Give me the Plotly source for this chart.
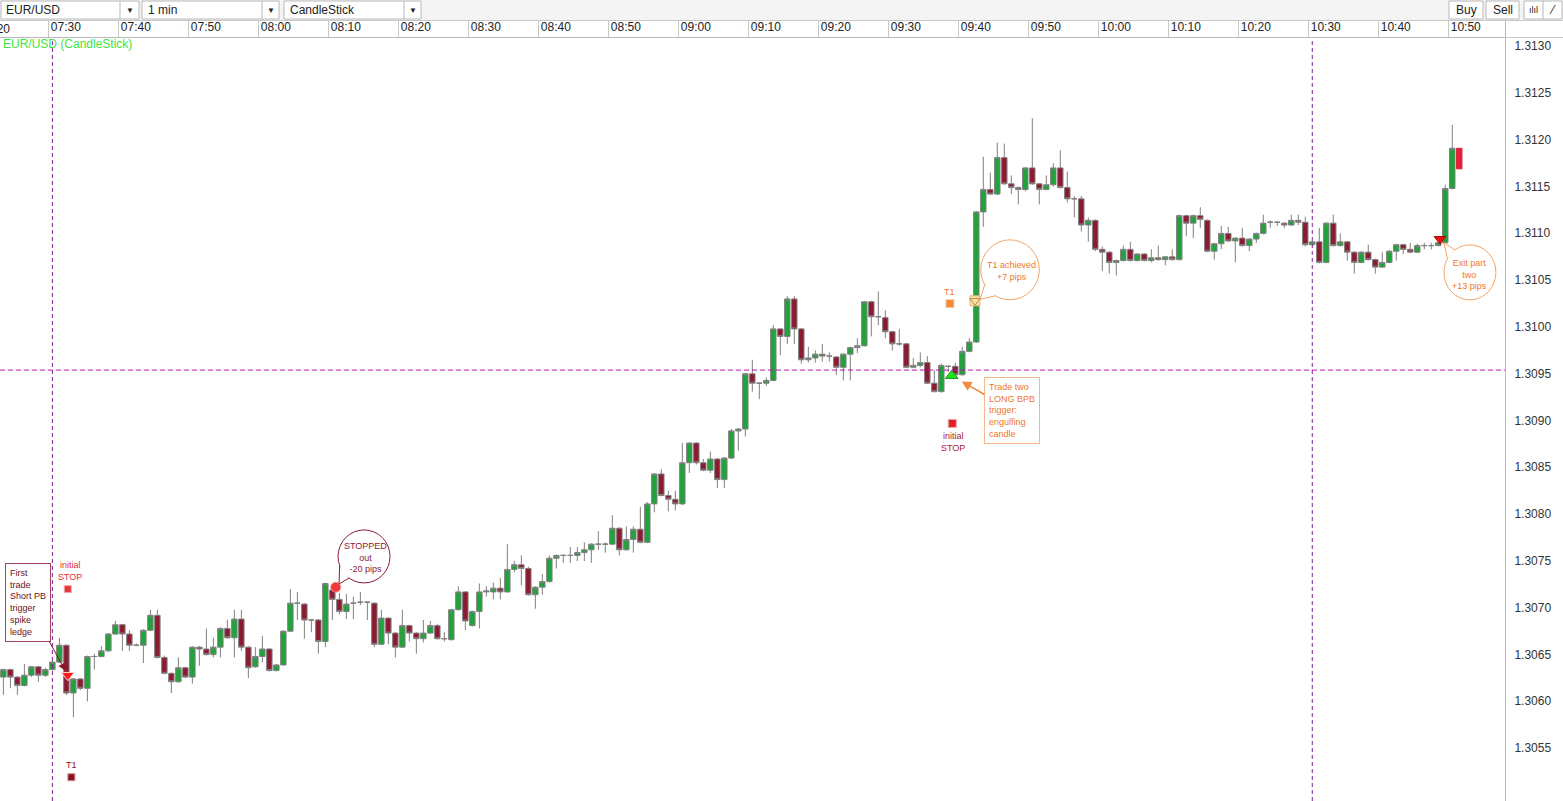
"""
EUR/USD 1 min candlestick chart with trade annotations.
"""

import pandas as pd
import plotly.graph_objects as go

# =============================================================================
# DATA  (one candle per minute from 07:23 to 10:50)
# =============================================================================

session_start = "2013-03-01 07:23"

opens = [
    1.30629, 1.30637, 1.30629, 1.30620, 1.30631, 1.30640, 1.30631, 1.30637, 1.30645, 1.30663,
    1.30612, 1.30627, 1.30617, 1.30651, 1.30651, 1.30657, 1.30675, 1.30685, 1.30675, 1.30663,
    1.30663, 1.30679, 1.30695, 1.30650, 1.30633, 1.30624, 1.30639, 1.30629, 1.30661, 1.30659,
    1.30653, 1.30661, 1.30681, 1.30671, 1.30691, 1.30661, 1.30640, 1.30651, 1.30659, 1.30636,
    1.30642, 1.30678, 1.30708, 1.30707, 1.30690, 1.30690, 1.30667, 1.30722, 1.30712, 1.30699,
    1.30708, 1.30709, 1.30709, 1.30708, 1.30664, 1.30692, 1.30676, 1.30661, 1.30684, 1.30676,
    1.30670, 1.30676, 1.30684, 1.30670, 1.30669, 1.30701, 1.30720, 1.30684, 1.30699, 1.30720,
    1.30720, 1.30724, 1.30720, 1.30744, 1.30749, 1.30745, 1.30717, 1.30725, 1.30731, 1.30756,
    1.30759, 1.30759, 1.30759, 1.30762, 1.30765, 1.30771, 1.30771, 1.30771, 1.30788, 1.30765,
    1.30776, 1.30787, 1.30773, 1.30814, 1.30846, 1.30823, 1.30819, 1.30814, 1.30858, 1.30879,
    1.30858, 1.30850, 1.30862, 1.30840, 1.30863, 1.30892, 1.30894, 1.30953, 1.30943, 1.30943,
    1.30946, 1.31001, 1.30993, 1.31033, 1.31001, 1.30968, 1.30970, 1.30974, 1.30972, 1.30971,
    1.30960, 1.30974, 1.30981, 1.30983, 1.31030, 1.31014, 1.31013, 1.30998, 1.30985, 1.30985,
    1.30960, 1.30962, 1.30965, 1.30943, 1.30934, 1.30961, 1.30961, 1.30952, 1.30977, 1.30987,
    1.31126, 1.31150, 1.31145, 1.31184, 1.31156, 1.31152, 1.31150, 1.31173, 1.31156, 1.31150,
    1.31155, 1.31173, 1.31152, 1.31140, 1.31140, 1.31112, 1.31117, 1.31086, 1.31083, 1.31072,
    1.31074, 1.31086, 1.31074, 1.31081, 1.31074, 1.31077, 1.31075, 1.31078, 1.31075, 1.31122,
    1.31114, 1.31122, 1.31117, 1.31084, 1.31092, 1.31103, 1.31095, 1.31098, 1.31090, 1.31097,
    1.31103, 1.31115, 1.31115, 1.31114, 1.31112, 1.31117, 1.31115, 1.31091, 1.31094, 1.31072,
    1.31114, 1.31090, 1.31094, 1.31083, 1.31072, 1.31083, 1.31075, 1.31067, 1.31072, 1.31084,
    1.31091, 1.31086, 1.31083, 1.31090, 1.31090, 1.31090, 1.31093, 1.31151,
]

highs = [
    1.30638, 1.30638, 1.30630, 1.30643, 1.30641, 1.30641, 1.30639, 1.30646, 1.30671, 1.30664,
    1.30628, 1.30628, 1.30652, 1.30654, 1.30662, 1.30676, 1.30689, 1.30686, 1.30679, 1.30665,
    1.30680, 1.30701, 1.30701, 1.30652, 1.30634, 1.30650, 1.30640, 1.30662, 1.30662, 1.30681,
    1.30671, 1.30682, 1.30690, 1.30701, 1.30701, 1.30662, 1.30661, 1.30673, 1.30660, 1.30643,
    1.30679, 1.30723, 1.30720, 1.30708, 1.30691, 1.30691, 1.30730, 1.30724, 1.30719, 1.30718,
    1.30715, 1.30720, 1.30710, 1.30709, 1.30701, 1.30693, 1.30677, 1.30701, 1.30685, 1.30677,
    1.30690, 1.30689, 1.30686, 1.30677, 1.30702, 1.30726, 1.30721, 1.30700, 1.30729, 1.30726,
    1.30730, 1.30735, 1.30771, 1.30753, 1.30759, 1.30747, 1.30726, 1.30739, 1.30759, 1.30760,
    1.30760, 1.30768, 1.30768, 1.30773, 1.30772, 1.30785, 1.30773, 1.30802, 1.30789, 1.30790,
    1.30790, 1.30811, 1.30816, 1.30847, 1.30851, 1.30828, 1.30828, 1.30879, 1.30880, 1.30880,
    1.30862, 1.30870, 1.30863, 1.30864, 1.30894, 1.30895, 1.30954, 1.30968, 1.30944, 1.30949,
    1.31005, 1.31002, 1.31036, 1.31036, 1.31002, 1.30982, 1.30978, 1.30985, 1.30976, 1.30972,
    1.30975, 1.30982, 1.30991, 1.31031, 1.31031, 1.31041, 1.31021, 1.30999, 1.31001, 1.30986,
    1.30970, 1.30976, 1.30972, 1.30957, 1.30964, 1.30962, 1.30965, 1.30982, 1.30991, 1.31127,
    1.31185, 1.31168, 1.31200, 1.31199, 1.31165, 1.31153, 1.31174, 1.31226, 1.31157, 1.31165,
    1.31178, 1.31192, 1.31169, 1.31143, 1.31143, 1.31120, 1.31118, 1.31089, 1.31084, 1.31075,
    1.31090, 1.31094, 1.31082, 1.31082, 1.31086, 1.31090, 1.31079, 1.31086, 1.31123, 1.31123,
    1.31123, 1.31131, 1.31118, 1.31093, 1.31111, 1.31110, 1.31099, 1.31109, 1.31098, 1.31104,
    1.31123, 1.31117, 1.31116, 1.31115, 1.31123, 1.31123, 1.31121, 1.31095, 1.31109, 1.31115,
    1.31123, 1.31103, 1.31095, 1.31084, 1.31084, 1.31091, 1.31076, 1.31083, 1.31085, 1.31092,
    1.31092, 1.31093, 1.31092, 1.31093, 1.31093, 1.31094, 1.31155, 1.31219,
]

lows = [
    1.30610, 1.30617, 1.30610, 1.30619, 1.30629, 1.30624, 1.30629, 1.30636, 1.30644, 1.30610,
    1.30586, 1.30615, 1.30603, 1.30637, 1.30650, 1.30656, 1.30674, 1.30657, 1.30657, 1.30662,
    1.30644, 1.30678, 1.30649, 1.30632, 1.30612, 1.30623, 1.30628, 1.30622, 1.30641, 1.30652,
    1.30650, 1.30650, 1.30670, 1.30650, 1.30657, 1.30628, 1.30639, 1.30645, 1.30635, 1.30635,
    1.30641, 1.30677, 1.30690, 1.30670, 1.30677, 1.30654, 1.30661, 1.30690, 1.30696, 1.30691,
    1.30691, 1.30706, 1.30690, 1.30661, 1.30663, 1.30664, 1.30650, 1.30660, 1.30667, 1.30654,
    1.30666, 1.30675, 1.30669, 1.30667, 1.30668, 1.30700, 1.30679, 1.30683, 1.30681, 1.30715,
    1.30712, 1.30712, 1.30719, 1.30741, 1.30727, 1.30716, 1.30702, 1.30717, 1.30730, 1.30745,
    1.30751, 1.30751, 1.30753, 1.30753, 1.30751, 1.30765, 1.30762, 1.30770, 1.30759, 1.30764,
    1.30762, 1.30772, 1.30772, 1.30805, 1.30822, 1.30806, 1.30807, 1.30813, 1.30847, 1.30856,
    1.30849, 1.30847, 1.30831, 1.30831, 1.30862, 1.30871, 1.30886, 1.30934, 1.30926, 1.30940,
    1.30945, 1.30973, 1.30985, 1.30985, 1.30964, 1.30965, 1.30965, 1.30966, 1.30966, 1.30952,
    1.30946, 1.30946, 1.30975, 1.30982, 1.30993, 1.31005, 1.30991, 1.30978, 1.30983, 1.30959,
    1.30959, 1.30960, 1.30942, 1.30933, 1.30933, 1.30955, 1.30949, 1.30951, 1.30976, 1.30986,
    1.31110, 1.31144, 1.31144, 1.31155, 1.31145, 1.31134, 1.31148, 1.31155, 1.31134, 1.31149,
    1.31153, 1.31151, 1.31136, 1.31120, 1.31105, 1.31094, 1.31084, 1.31063, 1.31060, 1.31058,
    1.31073, 1.31073, 1.31073, 1.31073, 1.31072, 1.31074, 1.31069, 1.31074, 1.31074, 1.31100,
    1.31098, 1.31109, 1.31083, 1.31075, 1.31086, 1.31094, 1.31072, 1.31089, 1.31084, 1.31093,
    1.31102, 1.31109, 1.31111, 1.31109, 1.31111, 1.31112, 1.31089, 1.31090, 1.31071, 1.31071,
    1.31089, 1.31089, 1.31074, 1.31060, 1.31071, 1.31074, 1.31060, 1.31066, 1.31071, 1.31074,
    1.31081, 1.31082, 1.31082, 1.31086, 1.31086, 1.31089, 1.31092, 1.31150,
]

closes = [
    1.30637, 1.30629, 1.30620, 1.30631, 1.30640, 1.30631, 1.30637, 1.30645, 1.30663, 1.30612,
    1.30627, 1.30617, 1.30651, 1.30651, 1.30657, 1.30675, 1.30685, 1.30675, 1.30663, 1.30663,
    1.30679, 1.30695, 1.30650, 1.30633, 1.30624, 1.30639, 1.30629, 1.30661, 1.30659, 1.30653,
    1.30661, 1.30681, 1.30671, 1.30691, 1.30661, 1.30639, 1.30651, 1.30659, 1.30636, 1.30642,
    1.30678, 1.30708, 1.30708, 1.30690, 1.30690, 1.30667, 1.30729, 1.30712, 1.30699, 1.30707,
    1.30708, 1.30709, 1.30709, 1.30664, 1.30692, 1.30676, 1.30661, 1.30684, 1.30676, 1.30670,
    1.30676, 1.30684, 1.30670, 1.30670, 1.30701, 1.30720, 1.30689, 1.30699, 1.30720, 1.30721,
    1.30724, 1.30720, 1.30744, 1.30749, 1.30745, 1.30717, 1.30725, 1.30731, 1.30756, 1.30759,
    1.30759, 1.30759, 1.30762, 1.30765, 1.30771, 1.30771, 1.30771, 1.30788, 1.30765, 1.30776,
    1.30787, 1.30773, 1.30814, 1.30846, 1.30823, 1.30819, 1.30814, 1.30858, 1.30879, 1.30858,
    1.30850, 1.30862, 1.30840, 1.30863, 1.30892, 1.30894, 1.30953, 1.30943, 1.30943, 1.30946,
    1.31001, 1.30993, 1.31033, 1.31001, 1.30968, 1.30970, 1.30974, 1.30972, 1.30972, 1.30960,
    1.30974, 1.30981, 1.30983, 1.31030, 1.31014, 1.31014, 1.30998, 1.30985, 1.30985, 1.30960,
    1.30962, 1.30965, 1.30943, 1.30934, 1.30962, 1.30961, 1.30952, 1.30977, 1.30987, 1.31126,
    1.31150, 1.31145, 1.31184, 1.31156, 1.31152, 1.31150, 1.31173, 1.31156, 1.31150, 1.31155,
    1.31173, 1.31152, 1.31140, 1.31140, 1.31112, 1.31117, 1.31086, 1.31083, 1.31072, 1.31074,
    1.31086, 1.31074, 1.31081, 1.31074, 1.31077, 1.31075, 1.31078, 1.31075, 1.31122, 1.31114,
    1.31122, 1.31118, 1.31084, 1.31092, 1.31103, 1.31095, 1.31098, 1.31090, 1.31097, 1.31103,
    1.31114, 1.31115, 1.31115, 1.31112, 1.31117, 1.31115, 1.31091, 1.31094, 1.31072, 1.31114,
    1.31090, 1.31094, 1.31083, 1.31072, 1.31083, 1.31075, 1.31067, 1.31072, 1.31084, 1.31091,
    1.31086, 1.31083, 1.31090, 1.31090, 1.31090, 1.31093, 1.31151, 1.31194,
]

# candle still forming at 10:51
live_time = ["2013-03-01 10:51"]
live_open = [1.31194]
live_high = [1.31194]
live_low = [1.31172]
live_close = [1.31172]

# trade markers drawn by the trader
signal_names = [
    "short entry", "short stop", "short T1", "stopped out",
    "long T1", "long stop", "long entry", "T1 achieved", "exit part two",
]
signal_times = [
    "2013-03-01 07:32:12", "2013-03-01 07:32:12", "2013-03-01 07:32:43", "2013-03-01 08:10:29",
    "2013-03-01 09:38:14", "2013-03-01 09:38:34", "2013-03-01 09:38:29", "2013-03-01 09:41:49",
    "2013-03-01 10:48:14",
]
signal_prices = [
    1.30631, 1.30723, 1.30522, 1.30725,
    1.31028, 1.30900, 1.30951, 1.31031,
    1.31097,
]

# point the "Trade two" arrow lands on
long_arrow_time = "2013-03-01 09:39:40"
long_arrow_price = 1.30946

level_price = 1.30957                                   # horizontal dashed level
session_lines = ["2013-03-01 07:30", "2013-03-01 10:30"]  # vertical dashed lines

time_labels = [
    "07:30", "07:40", "07:50", "08:00", "08:10", "08:20", "08:30", "08:40", "08:50",
    "09:00", "09:10", "09:20", "09:30", "09:40", "09:50", "10:00", "10:10", "10:20",
    "10:30", "10:40", "10:50",
]

# =============================================================================
# STYLE
# =============================================================================

COLORS = {
    "up": "#1fa33a",
    "down": "#8c1a30",
    "wick": "#808080",
    "live": "#e0203c",
    "vline": "#7d1f93",
    "hline": "#b414b4",
    "maroon": "#8b1a3a",
    "orange": "#f07828",
    "orange_line": "#f4a566",
    "toolbar": "#f4f4f4",
    "border": "#b8b8b8",
    "grid": "#c8c8c8",
    "text": "#222222",
}

FONT = "Liberation Sans, Arial, sans-serif"

signal_styles = {
    "short entry": dict(symbol="triangle-down", size=11, color="#ff1a1a", line="#ffd0d0"),
    "short stop": dict(symbol="square", size=7, color="#e8323c", line="#f4a8a8"),
    "short T1": dict(symbol="square", size=7, color="#8b1020", line="#c89090"),
    "stopped out": dict(symbol="circle", size=10, color="#f03a3a", line="#f49090"),
    "long T1": dict(symbol="square", size=8, color="#f08a3c", line="#f8c8a0"),
    "long stop": dict(symbol="square", size=8, color="#e0202c", line="#f0a0a0"),
    "long entry": dict(symbol="triangle-up", size=11, color="#22e022", line="#119911"),
    "T1 achieved": dict(symbol="triangle-down-open", size=9, color="#c08848", line="#c08848"),
    "exit part two": dict(symbol="triangle-down", size=10, color="#ee1111", line="#b00000"),
}

W, H = 1563, 801
PLOT_W, PLOT_TOP = 1505, 38


def px(x):
    """pixel column -> paper x"""
    return x / PLOT_W


def py(y):
    """pixel row -> paper y"""
    return (H - y) / (H - PLOT_TOP)


# =============================================================================
# FIGURE
# =============================================================================

times = pd.date_range(session_start, periods=len(opens), freq="min")

fig = go.Figure()

fig.add_trace(go.Candlestick(
    x=times, open=opens, high=highs, low=lows, close=closes,
    increasing=dict(fillcolor=COLORS["up"], line=dict(color=COLORS["wick"], width=1)),
    decreasing=dict(fillcolor=COLORS["down"], line=dict(color=COLORS["wick"], width=1)),
    whiskerwidth=0, hoverinfo="skip",
))
fig.add_trace(go.Candlestick(
    x=live_time, open=live_open, high=live_high, low=live_low, close=live_close,
    increasing=dict(fillcolor=COLORS["live"], line=dict(color=COLORS["live"], width=1)),
    decreasing=dict(fillcolor=COLORS["live"], line=dict(color=COLORS["live"], width=1)),
    whiskerwidth=0, hoverinfo="skip",
))

sig = dict(zip(signal_names, zip(signal_times, signal_prices)))

# beige tag behind the "T1 achieved" marker
fig.add_trace(go.Scatter(
    x=[sig["T1 achieved"][0]], y=[sig["T1 achieved"][1]], mode="markers",
    cliponaxis=False, hoverinfo="skip",
    marker=dict(symbol="square", size=10, color="#fbe0ac", line=dict(color="#e0b878", width=1)),
))

for name, t, p in zip(signal_names, signal_times, signal_prices):
    st = signal_styles[name]
    fig.add_trace(go.Scatter(
        x=[t], y=[p], mode="markers", cliponaxis=False, hoverinfo="skip",
        marker=dict(symbol=st["symbol"], size=st["size"], color=st["color"],
                    line=dict(color=st["line"], width=1)),
    ))

# ---- shapes -----------------------------------------------------------------
shapes = []


def rect(x0, y0, x1, y1, fill="white", line=COLORS["border"]):
    shapes.append(dict(type="rect", xref="paper", yref="paper",
                       x0=px(x0), x1=px(x1), y0=py(y1), y1=py(y0),
                       fillcolor=fill, line=dict(color=line, width=1 if line else 0)))


def seg(x0, y0, x1, y1, color=COLORS["border"]):
    shapes.append(dict(type="line", xref="paper", yref="paper",
                       x0=px(x0), x1=px(x1), y0=py(y0), y1=py(y1),
                       line=dict(color=color, width=1)))


# toolbar strip
rect(0, 0, W, 20, fill=COLORS["toolbar"], line=None)
seg(0, 20.5, W, 20.5, COLORS["grid"])
for x0, x1, xs in [(1, 139, 120), (142, 279, 262), (284, 421, 404)]:
    rect(x0, 1, x1, 19)
    seg(xs, 1, xs, 19)
rect(1449, 1, 1483, 19)
rect(1486, 1, 1519, 19)
rect(1524, 1, 1562, 19)
seg(1543, 1, 1543, 19)
# corner cell above the price axis
seg(PLOT_W + 0.5, 20.5, PLOT_W + 0.5, PLOT_TOP)
seg(PLOT_W, PLOT_TOP - 0.5, W, PLOT_TOP - 0.5, COLORS["grid"])

# dashed guide lines
for t in session_lines:
    shapes.append(dict(type="line", xref="x", yref="paper", x0=t, x1=t, y0=0, y1=1,
                       line=dict(color=COLORS["vline"], width=1, dash="4px,3px")))
shapes.append(dict(type="line", xref="paper", yref="y", x0=0, x1=1,
                   y0=level_price, y1=level_price,
                   line=dict(color=COLORS["hline"], width=1, dash="5px,3px")))


def bubble(anchor, ellipse, tail, color):
    """speech bubble in pixel offsets around a data anchor (y offsets point up)"""
    t, p = anchor
    common = dict(xref="x", yref="y", xsizemode="pixel", ysizemode="pixel",
                  xanchor=t, yanchor=p)
    ex0, ex1, ey0, ey1 = ellipse
    shapes.append(dict(type="circle", x0=ex0, x1=ex1, y0=ey0, y1=ey1,
                       fillcolor="white", line=dict(color=color, width=1), **common))
    (bx1, by1), (tx, ty), (bx2, by2) = tail
    shapes.append(dict(type="path", path=f"M{bx1},{by1} L{tx},{ty} L{bx2},{by2} Z",
                       fillcolor="white", line=dict(width=0), **common))
    shapes.append(dict(type="path", path=f"M{bx1},{by1} L{tx},{ty} L{bx2},{by2}",
                       fillcolor="rgba(0,0,0,0)", line=dict(color=color, width=1), **common))


bubble(sig["stopped out"], (2.3, 54.3, 4.3, 57.3),
       [(3.9, 21.7), (3.3, 3.3), (13.4, 9.1)], COLORS["maroon"])
bubble(sig["T1 achieved"], (5.7, 64.3, 1, 61),
       [(9.6, 16), (5, 1.5), (20.4, 5)], COLORS["orange_line"])
bubble(sig["exit part two"], (4, 56, -60.8, -5.8),
       [(7.5, -19.5), (4, -3.8), (15.1, -10.8)], COLORS["orange_line"])

# ---- annotations -------------------------------------------------------------
ann = []


def paper_text(text, x, y, xanchor="left", size=12, color=COLORS["text"]):
    ann.append(dict(text=text, xref="paper", yref="paper", x=px(x), y=py(y),
                    xanchor=xanchor, yanchor="middle", showarrow=False,
                    font=dict(family=FONT, size=size, color=color)))


def data_text(text, anchor, dx, dy, color, size=9, yanchor="middle"):
    ann.append(dict(text=text, xref="x", yref="y", x=anchor[0], y=anchor[1],
                    xshift=dx, yshift=dy, xanchor="center", yanchor=yanchor,
                    showarrow=False, font=dict(family=FONT, size=size, color=color)))


paper_text("EUR/USD", 4, 10)
paper_text("1 min", 146, 10)
paper_text("CandleStick", 288, 10)
for x in (129.5, 270.5, 412.5):
    paper_text("▼", x, 10, xanchor="center", size=8)
paper_text("Buy", 1466, 10, xanchor="center")
paper_text("Sell", 1502.5, 10, xanchor="center")
paper_text("ılıl", 1533.5, 10, xanchor="center", size=9)
paper_text("⁄", 1552.5, 10, xanchor="center", size=12)
paper_text("07:20", 12, 29, xanchor="right")
paper_text("EUR/USD (CandleStick)", 1, 44, color="#3ce63c")

data_text("initial<br>STOP", sig["short stop"], 2, 5, "#e0303a", yanchor="bottom")
data_text("T1", sig["short T1"], 0, 5, "#8b1020", yanchor="bottom")
data_text("T1", sig["long T1"], 0, 5, COLORS["orange"], yanchor="bottom")
data_text("initial<br>STOP", sig["long stop"], 1, -6, "#b01830", yanchor="top")
data_text("STOPPED<br>out<br>-20 pips", sig["stopped out"], 30, 30, COLORS["maroon"])
data_text("T1 achieved<br>+7 pips", sig["T1 achieved"], 36, 30, COLORS["orange"])
data_text("Exit part<br>two<br>+13 pips", sig["exit part two"], 30, -35.6, COLORS["orange"])

ann.append(dict(
    text="First<br>trade<br>Short PB<br>trigger<br>spike<br>ledge",
    x=sig["short entry"][0], y=sig["short entry"][1], xref="x", yref="y",
    ax=-40, ay=-73, showarrow=True, arrowhead=2, arrowsize=1.5, arrowwidth=1,
    arrowcolor="#8b1a2a", standoff=5, align="left",
    bgcolor="white", bordercolor="#a04462", borderwidth=1, borderpad=4,
    font=dict(family=FONT, size=9, color="#6e1020"),
))
ann.append(dict(
    text="Trade two<br>LONG BPB<br>trigger:<br>engulfing<br>candle",
    x=long_arrow_time, y=long_arrow_price, xref="x", yref="y",
    ax=52, ay=30, showarrow=True, arrowhead=2, arrowsize=1.3, arrowwidth=1.5,
    arrowcolor="#f08a40", standoff=2, align="left",
    bgcolor="white", bordercolor="#f5b88a", borderwidth=1, borderpad=4,
    font=dict(family=FONT, size=9, color=COLORS["orange"]),
))

tick_times = [pd.Timestamp("2013-03-01 " + lab) - pd.Timedelta(seconds=30) for lab in time_labels]

fig.update_layout(
    width=W, height=H,
    margin=dict(l=0, r=W - PLOT_W, t=PLOT_TOP, b=0),
    paper_bgcolor="white", plot_bgcolor="white",
    showlegend=False, hovermode=False,
    boxgap=0.12, boxgroupgap=0.12,
    font=dict(family=FONT, size=12, color=COLORS["text"]),
    shapes=shapes, annotations=ann,
    xaxis=dict(
        type="date", side="top",
        range=["2013-03-01 07:22:31", "2013-03-01 10:57:32"],
        rangeslider=dict(visible=False),
        showgrid=False, zeroline=False,
        showline=True, linecolor=COLORS["border"], linewidth=1,
        ticks="outside", ticklen=17, tickwidth=1, tickcolor=COLORS["grid"],
        tickmode="array", tickvals=tick_times, ticktext=time_labels,
        ticklabelshift=17, ticklabelstandoff=-16,
        tickfont=dict(family=FONT, size=12, color=COLORS["text"]),
    ),
    yaxis=dict(
        side="right", range=[1.304966, 1.313118],
        showgrid=False, zeroline=False,
        showline=True, linecolor=COLORS["border"], linewidth=1,
        tickmode="linear", tick0=1.3050, dtick=0.0005, tickformat=".4f",
        ticks="", ticklabelstandoff=6, ticklabelshift=-3,
        tickfont=dict(family=FONT, size=12, color="#333333"),
    ),
)

fig.write_html(
    "out.html",
    config={"displayModeBar": False, "staticPlot": True},
    post_script="document.body.style.margin='0';document.body.style.overflow='hidden';",
)
